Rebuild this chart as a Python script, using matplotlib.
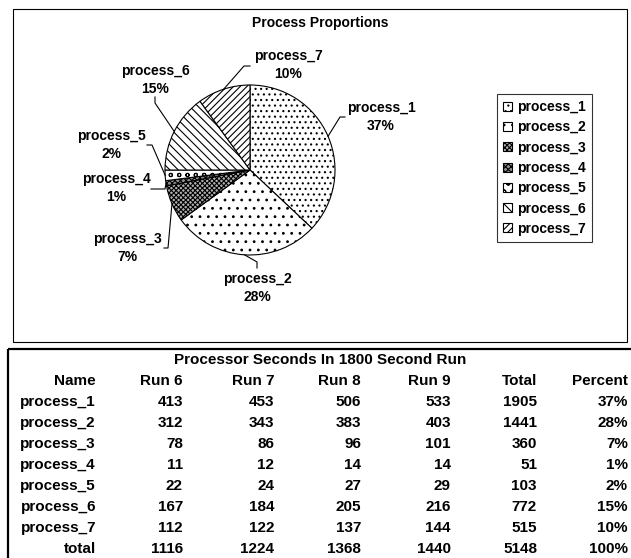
import numpy as np
import matplotlib
matplotlib.use('Agg')
import matplotlib.pyplot as plt
from matplotlib.patches import Rectangle

plt.rcParams['font.family'] = ['Liberation Sans', 'DejaVu Sans']
plt.rcParams['font.weight'] = 'bold'
plt.rcParams['hatch.linewidth'] = 0.8

# Processor seconds per run
names = ['process_1', 'process_2', 'process_3', 'process_4',
         'process_5', 'process_6', 'process_7']
run6 = [413, 312, 78, 11, 22, 167, 112]
run7 = [453, 343, 86, 12, 24, 184, 122]
run8 = [506, 383, 96, 14, 27, 205, 137]
run9 = [533, 403, 101, 14, 29, 216, 144]
totals = [1905, 1441, 360, 51, 103, 772, 515]
run_totals = [1116, 1224, 1368, 1440]
grand_total = 5148
header = ['Name', 'Run 6', 'Run 7', 'Run 8', 'Run 9', 'Total', 'Percent']

percents = [int(round(100.0 * t / sum(totals))) for t in totals]

# fill patterns for the slices
hatches = ['...', '..', 'xxxxxxx', 'xxxxxx', 'oo', '\\' * 4, '/' * 5]
faces = ['white', 'white', '#b0b0b0', '#909090', 'white', 'white', 'white']

fig = plt.figure(figsize=(6.31, 5.58), dpi=100)
ax = fig.add_axes([0, 0, 1, 1])

# pie (y axis runs downwards, so counterclock=True draws clockwise on screen)
cx, cy, r = 250, 170, 85
wedges, _ = ax.pie(totals, startangle=-90, counterclock=True, center=(cx, cy),
                   radius=r, frame=True, hatch=hatches, colors=faces,
                   wedgeprops=dict(edgecolor='black', linewidth=0.8))
ax.set_xlim(0, 631)
ax.set_ylim(558, 0)
ax.axis('off')

# slice labels with leader lines
label_xy = [(381, 117), (257, 288), (127, 248), (116, 188), (111, 145), (155, 80), (288, 65)]
leader = [[(345, 117), (340, 117)],
          [(257, 268), (257, 262)],
          [(164, 248), (168, 248)],
          [(151, 189), (165, 189)],
          [(147, 145), (152, 145)],
          [(155, 97), (155, 103)],
          [(250, 66), (244, 66)]]
for w, name, pct, (lx, ly), pts in zip(wedges, names, percents, label_xy, leader):
    mid = np.deg2rad((w.theta1 + w.theta2) / 2.0)
    ex, ey = cx + r * np.cos(mid), cy + r * np.sin(mid)
    xs = [pts[0][0], pts[1][0], ex]
    ys = [pts[0][1], pts[1][1], ey]
    ax.plot(xs, ys, color='black', lw=0.8)
    ax.text(lx, ly, '%s\n%d%%' % (name, pct), ha='center', va='center',
            fontsize=10, linespacing=1.35)

ax.text(320, 23, 'Process Proportions', ha='center', va='center', fontsize=10)

leg = ax.legend(wedges, names, loc='upper left', bbox_to_anchor=(497 / 631, 1 - 94 / 558),
                fontsize=10, handlelength=0.6, handleheight=0.6, handletextpad=0.4,
                labelspacing=0.45, borderpad=0.45, borderaxespad=0, fancybox=False)
leg.get_frame().set_edgecolor('black')
leg.get_frame().set_linewidth(0.8)

# frames around chart and table
ax.add_patch(Rectangle((13, 9), 614, 333, fill=False, lw=0.8, edgecolor='black'))
ax.add_patch(Rectangle((8, 349), 640, 220, fill=False, lw=1.6, edgecolor='black'))

# table
col_x = [96, 183, 274, 361, 451, 537, 628]
ax.text(320, 360, 'Processor Seconds In 1800 Second Run', ha='center', va='center', fontsize=11)
row_y = 381
for x, h in zip(col_x, header):
    ax.text(x, row_y, h, ha='right', va='center', fontsize=11)
for i in range(len(names)):
    y = 402 + 21 * i
    cells = [names[i], run6[i], run7[i], run8[i], run9[i], totals[i], '%d%%' % percents[i]]
    for x, c in zip(col_x, cells):
        ax.text(x, y, str(c), ha='right', va='center', fontsize=11)
y = 402 + 21 * len(names)
cells = ['total'] + run_totals + [grand_total, '100%']
for x, c in zip(col_x, cells):
    ax.text(x, y, str(c), ha='right', va='center', fontsize=11)

fig.savefig('out.png', dpi=100)
